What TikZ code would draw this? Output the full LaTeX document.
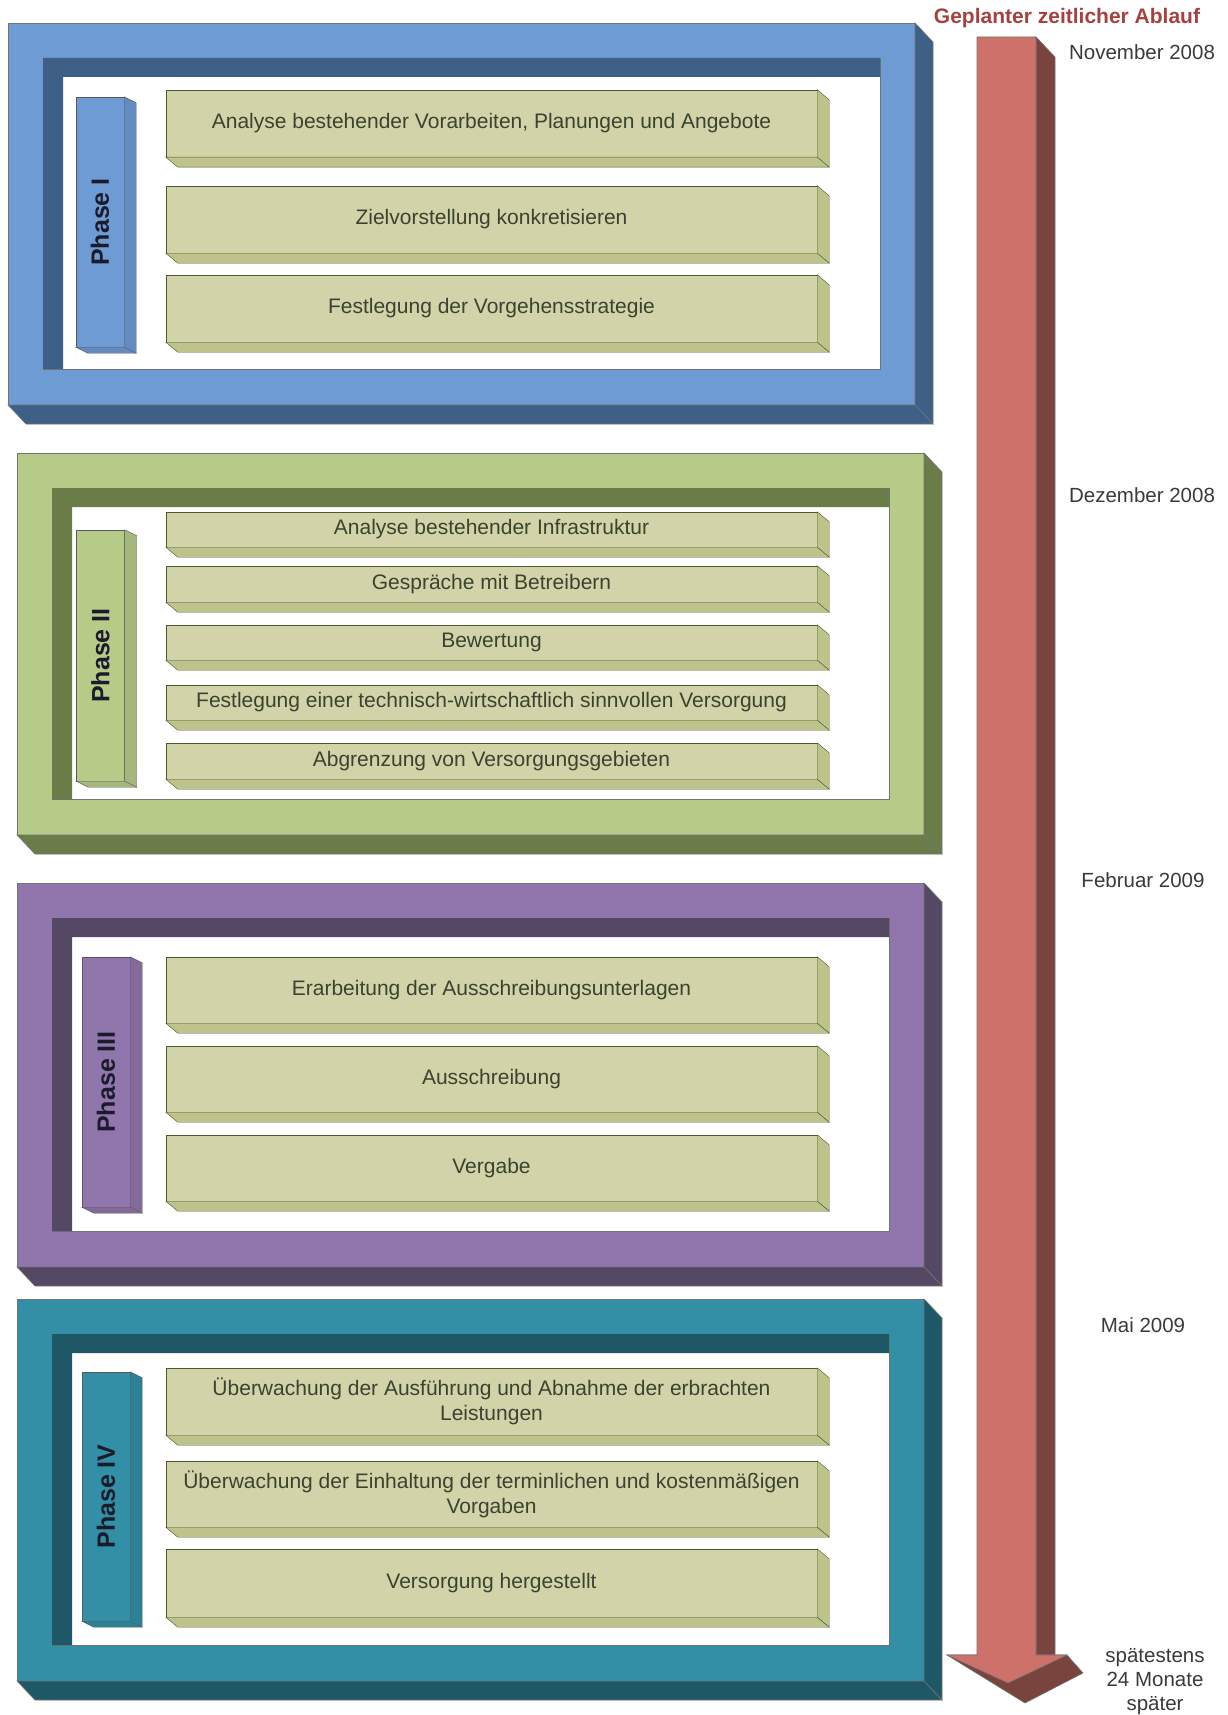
\documentclass[tikz,border=0pt]{standalone}
\usepackage{fontspec}
\setmainfont{Liberation Sans}
\usepackage{graphicx}
\usepackage{tikz}

\definecolor{blueF}{HTML}{6F9BD5}
\definecolor{blueD}{HTML}{3E5F86}
\definecolor{greenF}{HTML}{B7CB89}
\definecolor{greenD}{HTML}{6A7D49}
\definecolor{lilaF}{HTML}{9076AC}
\definecolor{lilaD}{HTML}{554864}
\definecolor{tealF}{HTML}{328FA6}
\definecolor{tealD}{HTML}{1E5765}
\definecolor{taskF}{HTML}{D3D3AA}
\definecolor{taskD}{HTML}{BEC38C}
\definecolor{taskline}{HTML}{4A5A2C}
\definecolor{tasktext}{HTML}{3A4330}
\definecolor{arrowF}{HTML}{CD716A}
\definecolor{arrowD}{HTML}{7A443E}
\definecolor{titleC}{HTML}{A6413F}
\definecolor{datetext}{HTML}{3A3A3A}
\definecolor{phasetext}{HTML}{1B1B2B}

\begin{document}
\begin{tikzpicture}[x=1pt, y=-1pt,
        task/.style={draw=taskline, fill=taskF, minimum width=651pt, inner sep=0pt, align=center, text=tasktext, font=\fontsize{21}{25}\selectfont},
        phasebar/.style={draw=black!65, minimum width=48pt, minimum height=250pt, inner sep=0pt, text=phasetext, font=\bfseries\fontsize{25}{29}\selectfont},
        datum/.style={align=center, text=datetext, font=\fontsize{20.5}{24}\selectfont},
        kante/.style={draw=black!55, line width=0.6pt}
        ]

        \useasboundingbox (0,0) rectangle (1227,1715);

        % Rahmen der vier Phasen
        \foreach \L/\T/\H/\fc/\dc in {8/23/382/blueF/blueD, 17/453/382/greenF/greenD, 17/883/384/lilaF/lilaD, 17/1299/382/tealF/tealD}{
            \filldraw[kante, fill=\fc] (\L,\T) rectangle ++(907,\H);
            \filldraw[kante, fill=\dc] (\L+907,\T) -- ++(18,19) -- ++(0,\H) -- ++(-18,-19) -- cycle;
            \filldraw[kante, fill=\dc] (\L,\T+\H) -- ++(907,0) -- ++(18,19) -- ++(-907,0) -- cycle;
            \filldraw[kante, fill=white] (\L+35,\T+35) rectangle (\L+872,\T+\H-36);
            \fill[\dc] (\L+35,\T+35) -- (\L+872,\T+35) -- (\L+872,\T+54) -- (\L+55,\T+54) -- (\L+55,\T+\H-36) -- (\L+35,\T+\H-36) -- cycle;
        }

        % Zeitachse
        \filldraw[kante, fill=arrowD] (1036,37) -- (1055,57) -- (1055,1655) -- (1036,1655) -- cycle;
        \filldraw[kante, fill=arrowD] (947,1655) -- (1025,1703) -- (1083,1673) -- (1067,1655) -- cycle;
        \filldraw[kante, fill=arrowF] (977,37) -- (1036,37) -- (1036,1655) -- (1067,1655) -- (1008,1683) -- (947,1655) -- (977,1655) -- cycle;

        \node (titel) [font=\bfseries\fontsize{21}{25}\selectfont, text=titleC] at (1067,18) {Geplanter zeitlicher Ablauf};

        \node (nov) [datum] at (1142,52) {November 2008};
        \node (dez) [datum] at (1142,495) {Dezember 2008};
        \node (feb) [datum] at (1143,880) {Februar 2009};
        \node (mai) [datum] at (1143,1325) {Mai 2009};
        \node (ende) [datum] at (1155,1682) {spätestens\\24 Monate\\später};

        % Phasenbalken
        \node (p1) [phasebar, fill=blueF] at (100,222) {\rotatebox{90}{Phase I}};
        \node (p2) [phasebar, fill=greenF, minimum height=251pt] at (100.5,655.5) {\rotatebox{90}{Phase II}};
        \node (p3) [phasebar, fill=lilaF] at (106,1082) {\rotatebox{90}{Phase III}};
        \node (p4) [phasebar, fill=tealF, minimum height=249pt] at (106,1496.5) {\rotatebox{90}{Phase IV}};

        % Phase I
        \node (t11) [task, minimum height=67pt] at (491.5,123.5) {Analyse bestehender Vorarbeiten, Planungen und Angebote};
        \node (t12) [task, minimum height=67pt] at (491.5,219.5) {Zielvorstellung konkretisieren};
        \node (t13) [task, minimum height=67pt] at (491.5,308.5) {Festlegung der Vorgehensstrategie};

        % Phase II
        \node (t21) [task, minimum height=35pt] at (491.5,529.5) {Analyse bestehender Infrastruktur};
        \node (t22) [task, minimum height=36pt] at (491.5,584) {Gespräche mit Betreibern};
        \node (t23) [task, minimum height=35pt] at (491.5,642.5) {Bewertung};
        \node (t24) [task, minimum height=35pt] at (491.5,702.5) {Festlegung einer technisch-wirtschaftlich sinnvollen Versorgung};
        \node (t25) [task, minimum height=36pt] at (491.5,761) {Abgrenzung von Versorgungsgebieten};

        % Phase III
        \node (t31) [task, minimum height=66pt] at (491.5,990) {Erarbeitung der Ausschreibungsunterlagen};
        \node (t32) [task, minimum height=66pt] at (491.5,1079) {Ausschreibung};
        \node (t33) [task, minimum height=66pt] at (491.5,1168) {Vergabe};

        % Phase IV
        \node (t41) [task, minimum height=67pt] at (491.5,1401.5) {Überwachung der Ausführung und Abnahme der erbrachten\\Leistungen};
        \node (t42) [task, minimum height=66pt] at (491.5,1494) {Überwachung der Einhaltung der terminlichen und kostenmäßigen\\Vorgaben};
        \node (t43) [task, minimum height=68pt] at (491.5,1583) {Versorgung hergestellt};

        % Tiefe der Kästen
        \foreach \n in {t11,t12,t13,t21,t22,t23,t24,t25,t31,t32,t33,t41,t42,t43}{
            \filldraw[draw=taskline, fill=taskD] (\n.north east) -- ([shift={(12,10)}]\n.north east) -- ([shift={(12,10)}]\n.south east) -- (\n.south east) -- cycle;
            \filldraw[draw=taskline, fill=taskD] (\n.south west) -- (\n.south east) -- ([shift={(12,10)}]\n.south east) -- ([shift={(12,10)}]\n.south west) -- cycle;
        }
        \foreach \n/\c in {p1/blueF, p2/greenF, p3/lilaF, p4/tealF}{
            \filldraw[draw=black!65, fill=\c!90!black] (\n.north east) -- ([shift={(12,6)}]\n.north east) -- ([shift={(12,6)}]\n.south east) -- (\n.south east) -- cycle;
            \filldraw[draw=black!65, fill=\c!90!black] (\n.south west) -- (\n.south east) -- ([shift={(12,6)}]\n.south east) -- ([shift={(12,6)}]\n.south west) -- cycle;
        }

    \end{tikzpicture}
\end{document}
